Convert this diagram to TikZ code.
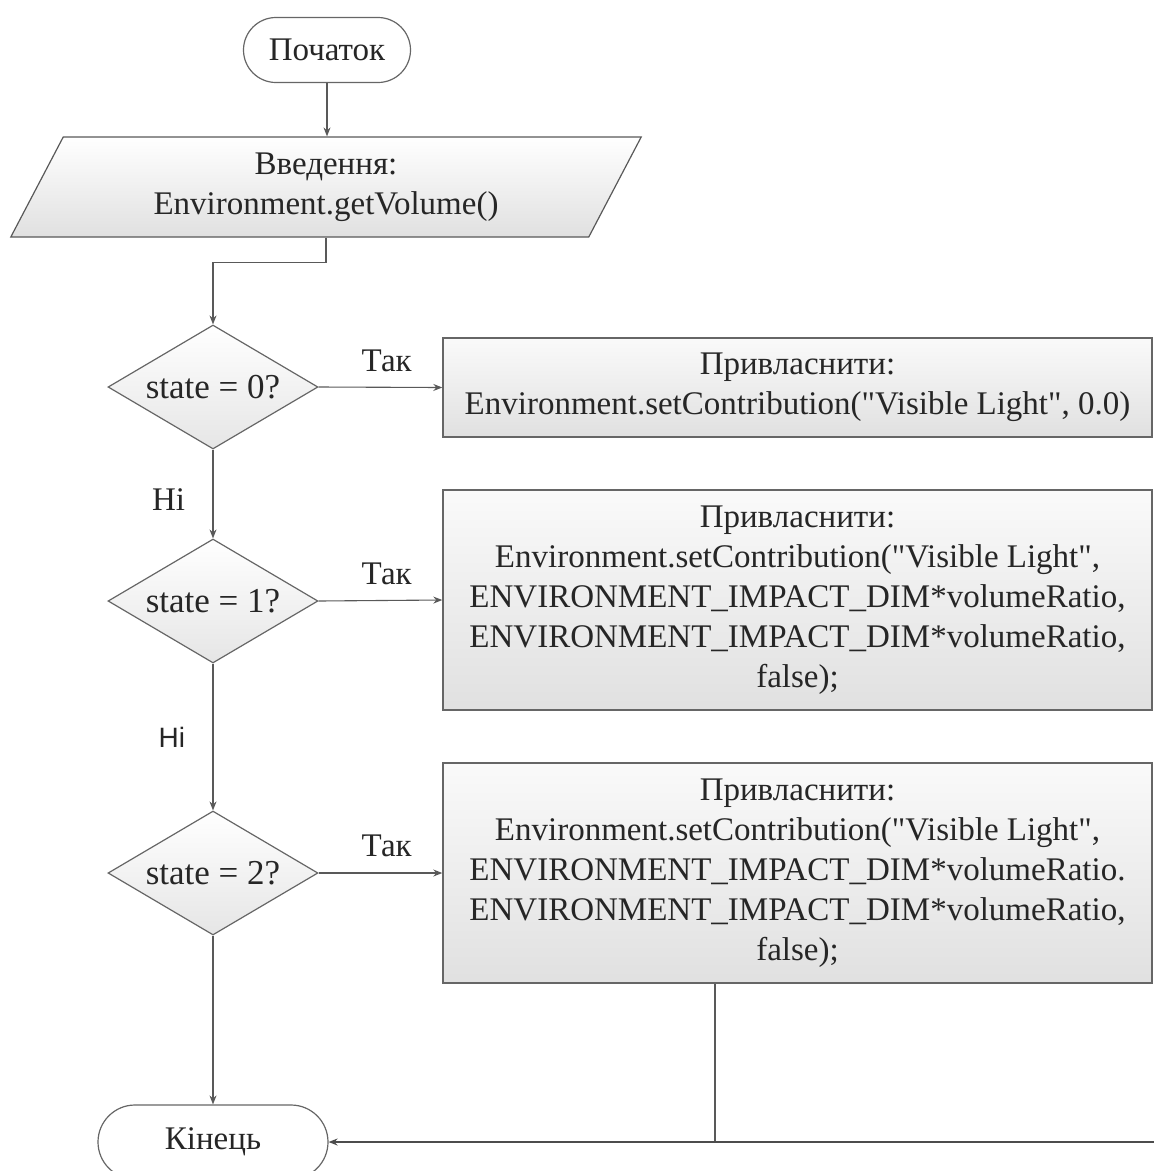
\documentclass[tikz,border=0pt]{standalone}
\usepackage{fontspec}
\newfontfamily\serf{Liberation Serif}
\newfontfamily\sansf{Liberation Sans}
\usetikzlibrary{shapes.geometric,shapes.misc,arrows.meta}
\begin{document}
\begin{tikzpicture}[x=1pt,y=-1pt,
  line/.style={draw=black!65, line width=1.1pt},
  arr/.style={line, -{Stealth[length=9pt,width=7pt]}},
  term/.style={rounded rectangle, draw=black!60, line width=1.2pt, fill=white, inner sep=0pt},
  decision/.style={diamond, draw=black!60, line width=1.2pt, top color=white, bottom color=black!10,
    minimum width=210pt, minimum height=124pt, inner sep=0pt, aspect=1.7,
    font=\serf\fontsize{35}{40}\selectfont},
  procbox/.style={rectangle, draw=black!60, line width=1.4pt, top color=black!2, bottom color=black!12,
    minimum width=709pt, inner sep=0pt, align=center},
  io/.style={trapezium, trapezium left angle=63.4, trapezium right angle=116.6, trapezium stretches=true,
    draw=black!65, line width=1.2pt, top color=white, bottom color=black!12,
    minimum width=632pt, minimum height=100pt, inner sep=0pt, align=center},
  lbl/.style={font=\serf\fontsize{33}{36}\selectfont, text=black!85},
  font=\serf\fontsize{33}{40}\selectfont, text=black!85]

\useasboundingbox (0,0) rectangle (1154,1171);

\node[term, minimum width=167pt, minimum height=65pt] (start) at (327,50) {Початок};
\node[io] (in) at (326,187) {Введення:\\Environment.getVolume()};
\node[decision] (d1) at (213,387) {state = 0?};
\node[decision] (d2) at (213,601) {state = 1?};
\node[decision] (d3) at (213,873) {state = 2?};
\node[procbox, minimum height=99pt] (b1) at (797.5,387.5)
  {Привласнити:\\Environment.setContribution("Visible Light", 0.0)};
\node[procbox, minimum height=220pt] (b2) at (797.5,600)
  {Привласнити:\\Environment.setContribution("Visible Light",\\ENVIRONMENT\_IMPACT\_DIM*volumeRatio,\\ENVIRONMENT\_IMPACT\_DIM*volumeRatio,\\false);};
\node[procbox, minimum height=220pt] (b3) at (797.5,873)
  {Привласнити:\\Environment.setContribution("Visible Light",\\ENVIRONMENT\_IMPACT\_DIM*volumeRatio.\\ENVIRONMENT\_IMPACT\_DIM*volumeRatio,\\false);};
\node[term, minimum width=230pt, minimum height=74pt] (end) at (213,1142) {Кінець};

\coordinate (j) at (715,1142);
\coordinate (rin) at (1154,1142);

\draw[arr] (start.south) -- (start.south |- in.north);
\draw[arr] (in.south) -- ++(0,25) -| (d1.north);
\draw[arr] (d1.east) -- node[lbl, above=12pt, pos=0.55] {Так} (b1.west);
\draw[arr] (d1.south) -- node[lbl, left=24pt, pos=0.56] {Ні} (d2.north);
\draw[arr] (d2.east) -- node[lbl, above=12pt, pos=0.55] {Так} (b2.west);
\draw[arr] (d2.south) -- node[lbl, left=24pt, pos=0.5, font=\sansf\fontsize{28}{30}\selectfont] {Ні} (d3.north);
\draw[arr] (d3.east) -- node[lbl, above=12pt, pos=0.55] {Так} (b3.west);
\draw[arr] (d3.south) -- (end.north);
\draw[line] (b3.south -| j) -- (j);
\draw[arr, line width=2pt, draw=black!70] (rin) -- (end.east);
\end{tikzpicture}
\end{document}
